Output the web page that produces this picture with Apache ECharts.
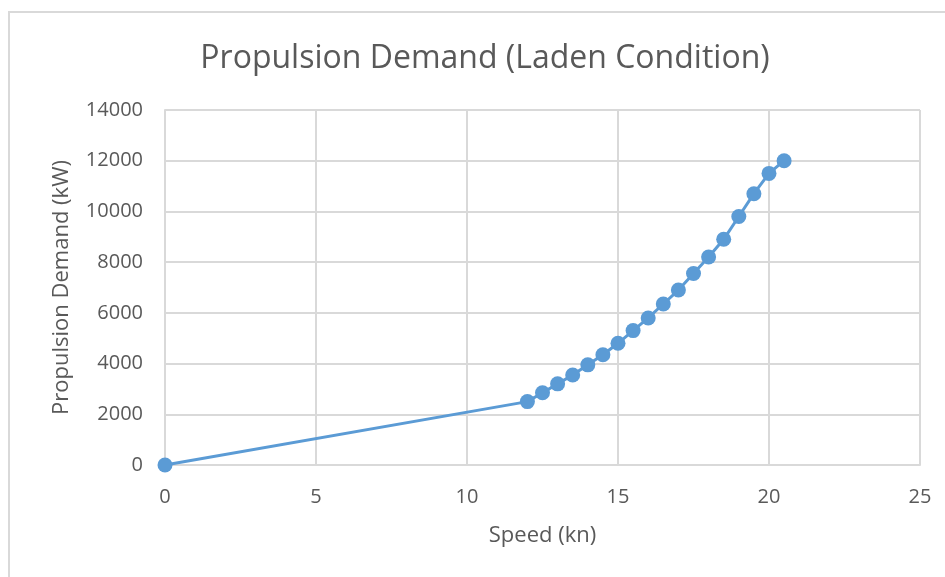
<!DOCTYPE html>
<html>
<head>
<meta charset="utf-8">
<script src="https://cdn.jsdelivr.net/npm/echarts@6/dist/echarts.min.js"></script>
<style>
  html, body { margin: 0; padding: 0; background: #ffffff; }
  #chart { width: 945px; height: 577px; }
</style>
</head>
<body>
<div id="chart"></div>
<script>
// Vessel speed (knots) and corresponding propulsion power demand (kW), laden condition
const speeds = [0, 12, 12.5, 13, 13.5, 14, 14.5, 15, 15.5, 16, 16.5, 17, 17.5, 18, 18.5, 19, 19.5, 20, 20.5];
const demand = [0, 2500, 2850, 3200, 3550, 3950, 4350, 4800, 5300, 5800, 6350, 6900, 7550, 8200, 8900, 9800, 10700, 11500, 12000];

const titleText = 'Propulsion Demand (Laden Condition)';
const xName = 'Speed (kn)';
const yName = 'Propulsion Demand (kW)';

const textColor = '#595959';
const gridColor = '#d9d9d9';
const seriesColor = '#5b9bd5';
const fontFamily = '"Open Sans", "Noto Sans", sans-serif';

const chart = echarts.init(document.getElementById('chart'), null, { renderer: 'canvas' });

chart.setOption({
  animation: false,
  backgroundColor: '#ffffff',
  graphic: [{
    type: 'rect',
    shape: { x: 9, y: 12, width: 960, height: 600 },
    style: { fill: 'none', stroke: gridColor, lineWidth: 2 },
    silent: true,
    z: -1
  }],
  title: {
    text: titleText,
    left: 480,
    top: 38,
    textAlign: 'center',
    textStyle: { fontFamily: fontFamily, fontSize: 32, fontWeight: 'normal', color: textColor }
  },
  grid: { left: 165, right: 25, top: 110, bottom: 112, containLabel: false },
  xAxis: {
    type: 'value',
    min: 0, max: 25, interval: 5,
    name: xName,
    nameLocation: 'middle',
    nameGap: 60,
    nameTextStyle: { fontFamily: fontFamily, fontSize: 22, color: textColor },
    axisLine: { show: true, lineStyle: { color: gridColor, width: 2 } },
    axisTick: { show: false },
    axisLabel: { margin: 22, fontFamily: fontFamily, fontSize: 20, color: textColor },
    splitLine: { show: true, lineStyle: { color: gridColor, width: 2 } }
  },
  yAxis: {
    type: 'value',
    min: 0, max: 14000, interval: 2000,
    name: yName,
    nameLocation: 'middle',
    nameGap: 92,
    nameTextStyle: { fontFamily: fontFamily, fontSize: 22, color: textColor },
    axisLine: { show: true, lineStyle: { color: gridColor, width: 2 } },
    axisTick: { show: false },
    axisLabel: {
      margin: 22, fontFamily: fontFamily, fontSize: 20, color: textColor,
      formatter: (v) => String(v)
    },
    splitLine: { show: true, lineStyle: { color: gridColor, width: 2 } }
  },
  series: [{
    type: 'line',
    data: speeds.map((s, i) => [s, demand[i]]),
    symbol: 'circle',
    symbolSize: 15,
    clip: false,
    itemStyle: { color: seriesColor },
    lineStyle: { color: seriesColor, width: 3 }
  }]
});
</script>
</body>
</html>
